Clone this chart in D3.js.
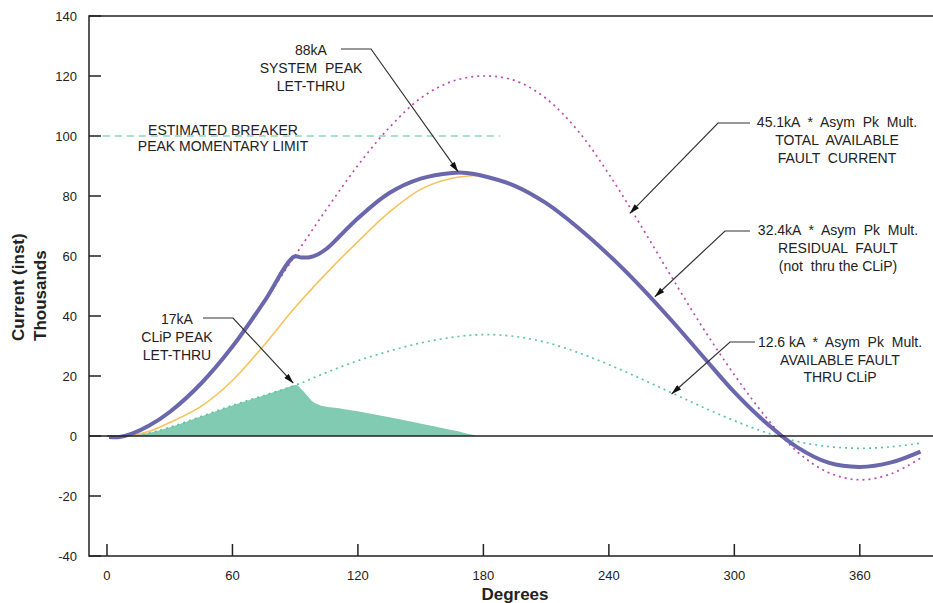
<!DOCTYPE html>
<html>
<head>
<meta charset="utf-8">
<script src="https://cdnjs.cloudflare.com/ajax/libs/d3/7.8.5/d3.min.js"></script>
<style>
  body { margin: 0; background: #fff; }
  text { font-family: "Liberation Sans", Arial, sans-serif; fill: #222; }
</style>
</head>
<body>
<div id="chart"></div>
<script>
// values, [degrees, current in thousands]
const xTicks = [0, 60, 120, 180, 240, 300, 360];
const yTicks = [-40, -20, 0, 20, 40, 60, 80, 100, 120, 140];

const totalFault = [[0, 0], [6, -0.3], [12, 0.8], [20, 3.4], [30, 8.0], [45, 17.5], [60, 29.8], [75, 44.6],
  [90, 60.2], [105, 75.6], [120, 90.2], [135, 102.8], [150, 112.6], [165, 118.2], [180, 120], [195, 118.5],
  [210, 112.5], [225, 101.9], [240, 87.3], [255, 70.5], [270, 53.0], [285, 36.0], [300, 20.4], [315, 6.4],
  [330, -5.2], [345, -12.2], [360, -14.6], [375, -12.6], [389, -7.4]];

const systemLetThru = [[1, -0.3], [6, -0.3], [12, 0.8], [20, 3.4], [30, 8.0], [45, 17.5], [60, 29.8], [75, 44.6],
  [89.5, 59.8], [93, 59.5], [97, 59.6], [101, 60.6], [105, 62.4], [111, 66.4], [120, 72.6], [135, 81.0],
  [150, 85.8], [165, 87.7], [172, 87.7], [178, 87.0], [195, 83.4], [210, 77.6], [225, 69.6], [240, 60.3],
  [255, 49.9], [270, 38.5], [285, 26.5], [300, 14.6], [315, 4.5], [330, -3.7], [345, -8.9], [360, -10.3],
  [375, -8.8], [389, -5.2]];

const residualFault = [[5, 0], [12, 0.4], [20, 1.5], [30, 4.5], [45, 9.9], [60, 18.5], [75, 30.2], [90, 42.9],
  [105, 54.3], [120, 64.8], [135, 74.6], [150, 82.2], [165, 85.9], [178, 86.9]];

const clipLetThru = [[10, 0], [20, 1.0], [30, 2.9], [45, 6.5], [60, 10.2], [75, 13.5], [85, 15.8], [90.5, 17],
  [93, 15.6], [95.5, 13.7], [98.5, 11.4], [102, 10.2], [110, 9.3], [125, 7.6], [140, 5.6], [155, 3.4],
  [170, 1.2], [177.5, 0]];

const clipAvailable = [[0, 0], [10, 0], [20, 1.0], [30, 2.9], [45, 6.5], [60, 10.2], [75, 13.5], [90, 16.9],
  [105, 21.2], [120, 25.1], [135, 28.3], [150, 31.0], [165, 32.9], [180, 33.8], [195, 33.2], [210, 31.2],
  [225, 27.9], [240, 23.8], [255, 19.2], [270, 14.4], [285, 9.6], [300, 5.1], [315, 1.2], [330, -1.8],
  [345, -3.5], [360, -4.1], [375, -3.6], [389, -2.4]];

const breakerLimit = [[-2, 100], [188, 100]];

const width = 933;
const height = 603;

const x = d3.scaleLinear().domain([-8.6, 395]).range([89, 933]);
const y = d3.scaleLinear().domain([-40, 140]).range([556, 16]);

const svg = d3.select("#chart")
  .append("svg")
  .attr("width", width)
  .attr("height", height);

svg.append("defs").append("marker")
  .attr("id", "arrow")
  .attr("viewBox", "0 -3 10 6")
  .attr("refX", 10)
  .attr("refY", 0)
  .attr("markerUnits", "userSpaceOnUse")
  .attr("markerWidth", 11)
  .attr("markerHeight", 6)
  .attr("orient", "auto")
  .append("path")
  .attr("d", "M0,-3L10,0L0,3Z")
  .style("fill", "#111");

const line = d3.line()
  .x(d => x(d[0]))
  .y(d => y(d[1]))
  .curve(d3.curveCatmullRom.alpha(0.5));

const area = d3.area()
  .x(d => x(d[0]))
  .y0(y(0))
  .y1(d => y(d[1]))
  .curve(d3.curveCatmullRom.alpha(0.5));

// CLiP let-thru fill
svg.append("path")
  .attr("d", area(clipLetThru))
  .style("fill", "#80cbb1");

svg.append("path")
  .attr("d", line(clipAvailable))
  .style("fill", "none")
  .style("stroke", "#5cc79f")
  .style("stroke-width", 1.7)
  .style("stroke-dasharray", "2,4");

svg.append("path")
  .attr("d", line(breakerLimit))
  .style("fill", "none")
  .style("stroke", "#52c29c")
  .style("stroke-width", 1.2)
  .style("stroke-dasharray", "7,5");

svg.append("path")
  .attr("d", line(residualFault))
  .style("fill", "none")
  .style("stroke", "#f6c35c")
  .style("stroke-width", 1.6);

svg.append("path")
  .attr("d", line(totalFault))
  .style("fill", "none")
  .style("stroke", "#c04ab0")
  .style("stroke-width", 1.7)
  .style("stroke-dasharray", "2,4");

svg.append("path")
  .attr("d", line(systemLetThru))
  .style("fill", "none")
  .style("stroke", "#6a67ad")
  .style("stroke-width", 4)
  .style("stroke-linejoin", "round");

// frame, zero line and ticks
const frame = svg.append("g").style("stroke", "#222").style("stroke-width", 1.5).style("fill", "none");
frame.append("path").attr("d", `M${width},${y(140)}H${x.range()[0]}V${y(-40)}H${width}`);
frame.append("line")
  .attr("x1", x.range()[0]).attr("x2", width)
  .attr("y1", y(0)).attr("y2", y(0));

frame.selectAll(".ytick")
  .data(yTicks)
  .enter()
  .append("line")
  .attr("x1", x.range()[0]).attr("x2", x.range()[0] + 12)
  .attr("y1", d => y(d)).attr("y2", d => y(d));

frame.selectAll(".xtick")
  .data(xTicks)
  .enter()
  .append("line")
  .attr("x1", d => x(d)).attr("x2", d => x(d))
  .attr("y1", y(-40)).attr("y2", y(-40) - 12);

svg.selectAll(".ylabel")
  .data(yTicks)
  .enter()
  .append("text")
  .attr("x", 77)
  .attr("y", d => y(d))
  .attr("dy", "0.35em")
  .attr("text-anchor", "end")
  .style("font-size", "13px")
  .text(d => d);

svg.selectAll(".xlabel")
  .data(xTicks)
  .enter()
  .append("text")
  .attr("x", d => x(d))
  .attr("y", 580)
  .attr("text-anchor", "middle")
  .style("font-size", "13px")
  .text(d => d);

svg.append("text")
  .attr("x", 515)
  .attr("y", 600)
  .attr("text-anchor", "middle")
  .style("font-size", "17px")
  .style("font-weight", "bold")
  .text("Degrees");

svg.append("text")
  .attr("transform", "translate(24,341) rotate(-90)")
  .style("font-size", "17px")
  .style("font-weight", "bold")
  .text("Current (inst)");

svg.append("text")
  .attr("transform", "translate(46,341) rotate(-90)")
  .style("font-size", "17px")
  .style("font-weight", "bold")
  .text("Thousands");

// annotations
function label(cx, top, lines, gap) {
  svg.append("g").selectAll("text")
    .data(lines)
    .enter()
    .append("text")
    .attr("x", cx)
    .attr("y", (d, i) => top + i * gap)
    .attr("text-anchor", "middle")
    .style("font-size", "14px")
    .style("white-space", "pre")
    .text(d => d);
}

function leader(x0, x1, y0, tip) {
  svg.append("path")
    .attr("d", `M${x0},${y0}H${x1}L${x(tip[0])},${y(tip[1])}`)
    .style("fill", "none")
    .style("stroke", "#333")
    .style("stroke-width", 1.2)
    .attr("marker-end", "url(#arrow)");
}

label(223, 135, ["ESTIMATED BREAKER", "PEAK MOMENTARY LIMIT"], 16);

label(311, 55, ["88kA", "SYSTEM  PEAK", "LET-THRU"], 18);
leader(341, 371, 49, [167.9, 88.1]);

label(177, 324, ["17kA", "CLiP PEAK", "LET-THRU"], 18);
leader(203, 233, 318, [89.1, 17.6]);

label(837, 127, ["45.1kA  *  Asym  Pk  Mult.", "TOTAL  AVAILABLE", "FAULT  CURRENT"], 18);
leader(750, 718, 123, [250, 74.2]);

label(838, 235, ["32.4kA  *  Asym  Pk  Mult.", "RESIDUAL  FAULT", "(not  thru the CLiP)"], 18);
leader(750, 725, 231, [262, 46.4]);

label(840, 347, ["12.6 kA  *  Asym  Pk  Mult.", "AVAILABLE FAULT", "THRU CLiP"], 17.5);
leader(755, 730, 342, [270, 14]);
</script>
</body>
</html>
